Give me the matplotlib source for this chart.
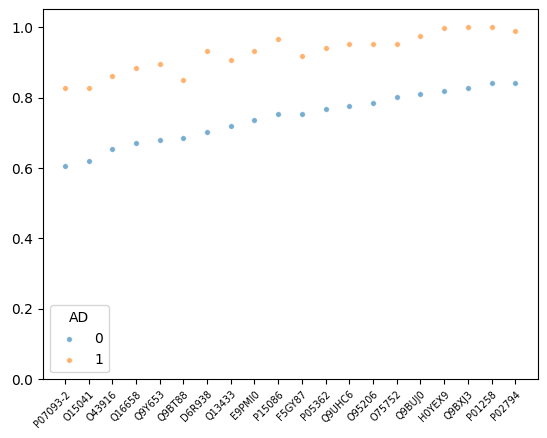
import matplotlib
matplotlib.use("Agg")
import matplotlib.pyplot as plt

proteins = ["P07093-2", "O15041", "O43916", "Q16658", "Q9Y653", "Q9BT88",
            "D6R938", "Q13433", "E9PMI0", "P15086", "F5GY87", "P05362",
            "Q9UHC6", "O95206", "O75752", "Q9BUJ0", "H0YEX9", "Q9BXJ3",
            "P01258", "P02794"]
ad0 = [0.606, 0.620, 0.654, 0.671, 0.680, 0.686, 0.703, 0.720, 0.737, 0.754,
       0.754, 0.768, 0.777, 0.785, 0.802, 0.811, 0.820, 0.828, 0.842, 0.842]
ad1 = [0.828, 0.828, 0.862, 0.885, 0.896, 0.851, 0.931, 0.908, 0.931, 0.965,
       0.919, 0.942, 0.953, 0.953, 0.953, 0.976, 0.999, 1.0, 1.0, 0.988]

fig, ax = plt.subplots(figsize=(5.47, 4.38), dpi=100)
fig.subplots_adjust(left=0.0786, right=0.9835, top=0.979, bottom=0.134)

x = range(len(proteins))
ax.scatter(x, ad0, s=16, color="#1f77b4", alpha=0.6, edgecolors="white", linewidths=0.5, label="0")
ax.scatter(x, ad1, s=16, color="#ff7f0e", alpha=0.6, edgecolors="white", linewidths=0.5, label="1")

ax.set_xticks(list(x))
ax.set_xticklabels(proteins, rotation=45, ha="right", rotation_mode="anchor", fontsize=7)
ax.set_xlim(-0.92, 19.96)
ax.set_ylim(0, 1.051)
ax.legend(title="AD", loc="lower left")

fig.savefig("out.png")
